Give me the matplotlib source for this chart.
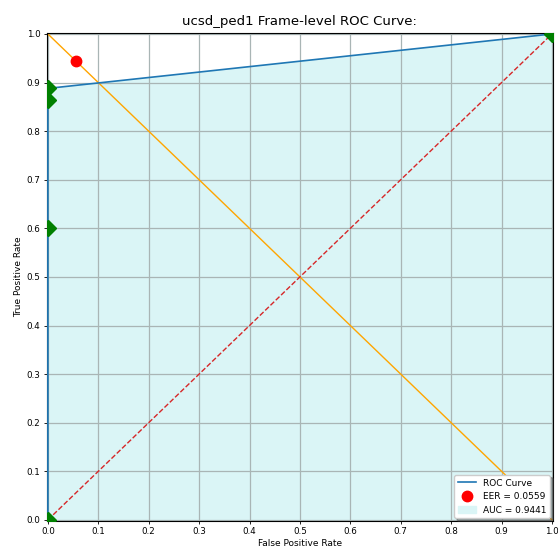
import matplotlib
matplotlib.use("Agg")
import matplotlib.pyplot as plt
import numpy as np

FPR = [0.0, 0.0, 0.0, 0.0, 1.0]
TPR = [0.0, 0.6, 0.865, 0.888, 1.0]
EER = 0.0559
AUC = 0.9441
TICKS = np.round(np.arange(0, 1.01, 0.1), 1)

fig = plt.figure(figsize=(5.58, 5.5), dpi=100)
ax = fig.add_axes([0.084, 0.053, 0.907, 0.887])

ax.fill_between(FPR, TPR, 0, color="#daf5f6", label=f"AUC = {AUC:.4f}", zorder=1)
ax.plot(FPR, TPR, color="#1f77b4", lw=1.2, label="ROC Curve", zorder=3)
ax.plot([0, 1], [1, 0], color="orange", lw=1.0, zorder=2)
ax.plot([0, 1], [0, 1], color="#d62728", ls="--", lw=1.0, zorder=2)
ax.plot(FPR, TPR, ls="none", marker="D", color="green", ms=8, zorder=4)
ax.plot([EER], [1 - EER], ls="none", marker="o", color="red", ms=7.5,
        label=f"EER = {EER:.4f}", zorder=5)

ax.set_xlim(-0.002, 1.002)
ax.set_ylim(-0.002, 1.002)
ax.set_xticks(TICKS)
ax.set_yticks(TICKS)
ax.tick_params(labelsize=6.3, length=2.5, width=0.6, pad=2)
ax.grid(True, color="#a9b5b5", lw=0.9)
for s in ax.spines.values():
    s.set_linewidth(0.8)
ax.set_xlabel("False Positive Rate", fontsize=6.5, labelpad=2)
ax.set_ylabel("True Positive Rate", fontsize=6.5, labelpad=3)
ax.set_title("ucsd_ped1 Frame-level ROC Curve:", fontsize=9.5, pad=6)

h, l = ax.get_legend_handles_labels()
order = [l.index("ROC Curve"), l.index(f"EER = {EER:.4f}"), l.index(f"AUC = {AUC:.4f}")]
ax.legend([h[i] for i in order], [l[i] for i in order], loc="lower right",
          fontsize=6.5, shadow=True, framealpha=1, borderaxespad=0.3)

fig.savefig("out.png", dpi=100)
